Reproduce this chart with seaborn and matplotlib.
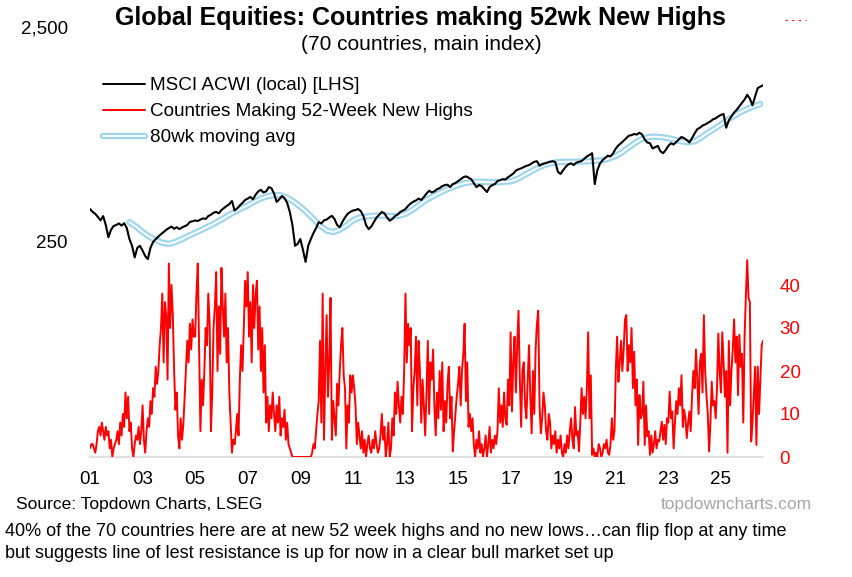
import numpy as np
import pandas as pd
import matplotlib
matplotlib.use("Agg")
import matplotlib.pyplot as plt
import seaborn as sns
from matplotlib import patheffects as pe
from matplotlib.lines import Line2D
from matplotlib.ticker import NullLocator

# ---------------- data ----------------
# MSCI ACWI (local), 10 readings per year starting 2001.0
acwi_start, acwi_step = 2001.0, 0.1
acwi_level = [
    356, 345, 338, 327, 315, 330, 300, 263, 285, 297,   # 2001
    300, 305, 298, 306, 290, 258, 240, 212, 235, 240,   # 2002
    228, 215, 208, 235, 250, 258, 265, 272, 278, 285,   # 2003
    290, 295, 288, 293, 287, 292, 296, 300, 310, 312,   # 2004
    315, 313, 318, 322, 320, 330, 335, 342, 345, 340,   # 2005
    352, 360, 368, 375, 388, 350, 358, 370, 380, 392,   # 2006
    398, 405, 395, 415, 430, 437, 425, 430, 450, 445,   # 2007
    420, 384, 395, 409, 400, 380, 345, 300, 240, 245,   # 2008
    258, 230, 202, 240, 258, 275, 290, 309, 305, 315,   # 2009
    318, 325, 331, 320, 300, 293, 310, 325, 338, 345,   # 2010
    350, 352, 356, 348, 330, 300, 287, 295, 310, 325,   # 2011
    335, 345, 340, 325, 314, 320, 330, 335, 345, 350,   # 2012
    356, 368, 378, 385, 390, 398, 392, 405, 420, 433,   # 2013
    425, 430, 440, 445, 455, 460, 462, 450, 465, 470,   # 2014
    480, 490, 500, 505, 498, 490, 470, 450, 460, 455,   # 2015
    440, 427, 450, 460, 465, 480, 485, 490, 488, 500,   # 2016
    510, 520, 537, 545, 550, 558, 565, 570, 580, 590,   # 2017
    594, 566, 575, 580, 585, 590, 594, 588, 530, 518,   # 2018
    540, 560, 575, 580, 570, 585, 590, 595, 610, 625,   # 2019
    635, 647, 465, 540, 580, 601, 615, 630, 625, 647,   # 2020
    680, 704, 720, 740, 760, 781, 785, 795, 790, 806,   # 2021
    790, 750, 726, 720, 681, 690, 700, 660, 647, 670,   # 2022
    700, 720, 710, 730, 750, 770, 760, 745, 726, 760,   # 2023
    800, 837, 850, 870, 880, 895, 910, 930, 940, 960,   # 2024
    975, 985, 850, 920, 960, 1000, 1030, 1070, 1110, 1150,  # 2025
    1210, 1160, 1080, 1190, 1300, 1320, 1340,           # 2026
]

# 80wk moving average, quarterly readings starting 2002.5
ma_start, ma_step = 2002.5, 0.25
ma_80wk = [
    309, 295,                                   # 2002 H2
    278, 265, 255, 248,                         # 2003
    245, 250, 258, 267,                         # 2004
    276, 285, 295, 306,                         # 2005
    318, 332, 345, 358,                         # 2006
    370, 385, 398, 408,                         # 2007
    413, 413, 402, 385,                         # 2008
    365, 343, 320, 298,                         # 2009
    283, 278, 285, 298,                         # 2010
    315, 325, 328, 331,                         # 2011
    332, 331, 330, 331,                         # 2012
    338, 352, 370, 390,                         # 2013
    405, 420, 435, 448,                         # 2014
    460, 470, 475, 477,                         # 2015
    476, 474, 474, 476,                         # 2016
    479, 490, 510, 530,                         # 2017
    550, 568, 580, 587,                         # 2018
    590, 590, 590, 592,                         # 2019
    594, 597, 600, 612,                         # 2020
    628, 655, 690, 725,                         # 2021
    755, 770, 772, 768,                         # 2022
    760, 748, 735, 727,                         # 2023
    735, 765, 805, 840,                         # 2024
    880, 925, 965, 1005,                        # 2025
    1040, 1070, 1095,                           # 2026
]

# Countries making 52-week new highs, 20 readings per year starting 2001.0
nh_start, nh_step = 2001.0, 0.05
new_highs = [
    2, 3, 3, 2, 1, 3, 6, 7, 5, 8, 6, 4, 7, 5, 6, 2, 4, 0, 2, 3,                      # 2001
    4, 6, 3, 8, 5, 10, 7, 15, 9, 14, 6, 8, 2, 0, 3, 5, 4, 7, 3, 6,                   # 2002
    12, 4, 1, 6, 9, 7, 13, 10, 16, 14, 21, 17, 20, 26, 30, 38, 22, 36, 33, 18,       # 2003
    45, 30, 40, 33, 20, 11, 15, 5, 2, 9, 4, 7.5, 14, 20, 27, 22, 31, 25, 32, 28,     # 2004
    28, 38, 45, 25, 6, 18, 12, 20, 30, 26, 38, 31, 6, 15, 30, 35, 43, 20, 35, 24,    # 2005
    44, 35, 28, 38, 22, 30, 15, 8, 1, 4, 3, 6, 10, 5, 18, 26, 20, 30, 41, 35,        # 2006
    43, 28, 36, 22, 40, 30, 38, 41, 25, 35, 20, 30, 15, 26, 8, 14, 6, 12, 9, 15,     # 2007
    10, 6, 12, 8, 14, 5, 9, 7, 11, 4, 8, 3, 2, 1, 0, 0, 0, 0, 0, 0,                  # 2008
    0, 0, 0, 0, 0, 0, 0, 0, 0, 1, 3, 2, 6, 10, 13, 27, 8, 38, 4, 20,                 # 2009
    33, 14, 22, 37, 4, 13, 9, 5, 17, 12, 20, 26, 30, 19, 16, 2, 12, 8, 19, 15,       # 2010
    19, 16, 12, 3, 8, 5, 2, 6, 1, 4, 0, 3, 5, 2, 1, 4, 2, 6, 3, 1,                   # 2011
    2, 5, 10, 4, 7, 0, 3, 8, 0, 2, 9, 5, 15, 10, 17.5, 12, 8, 14, 10, 20,            # 2012
    38, 22, 31, 26, 30, 6, 16, 20, 28, 12, 27, 20, 8, 18, 12, 5, 15, 27, 10, 22,     # 2013
    18, 25, 12, 5, 15, 9, 20, 11, 22, 6, 13, 8, 17, 21, 9, 14, 1.3, 6, 10, 14,       # 2014
    17, 21, 12, 20, 24, 31, 13, 22, 7, 10, 6, 9, 3, 0, 4, 2, 6, 1, 3, 0,             # 2015
    2, 5, 0, 3, 7, 1, 4, 2, 5, 3, 6, 16, 8, 12, 7, 15, 9, 7.5, 18, 12,               # 2016
    29, 10.6, 22, 28, 15, 26, 34, 18, 7, 20, 22, 12, 9, 18, 26, 14, 5.5, 20, 10, 25, # 2017
    31, 34, 12, 5.5, 9, 15, 12, 6, 4, 10, 8, 2, 5, 3, 6, 1, 4, 2, 5, 1,              # 2018
    0, 3, 1, 5, 2, 6, 9, 4, 2, 11.6, 5, 6, 1.3, 8, 16, 10, 14, 9, 16, 29,            # 2019
    9, 19, 0.5, 2, 0, 1, 0, 3, 2, 0, 1, 3, 2, 4, 1, 0.5, 3, 9, 4, 6,                 # 2020
    20, 28, 17.5, 22, 27, 20, 25, 32, 33, 20, 26, 22, 30, 16, 24.5, 12, 18, 2.8, 14.4, 9,  # 2021
    10, 17.5, 2.8, 12, 4.8, 6, 0.5, 5, 1, 3, 6, 2, 4, 3.6, 6, 8.2, 4, 7.5, 3, 9,     # 2022
    8, 15.2, 9, 10.6, 2, 8, 13, 10, 16, 12, 19, 7, 11, 9, 4.4, 8, 10.6, 6, 14, 20,   # 2023
    16, 25, 18, 10, 22, 24, 15, 33, 20, 14.4, 10, 1.3, 8, 17.5, 12, 13, 9, 16, 28.7, 20,  # 2024
    15, 29, 22, 14, 20, 1, 27, 12, 20, 25, 32, 22, 28, 14.4, 28.4, 21, 24, 8, 28, 37.7,   # 2025
    45.8, 37, 36, 3.6, 8, 14.4, 21, 2.8, 21, 10, 18, 26, 27,                         # 2026
]

year_ticks = list(range(2001, 2026, 2))
year_labels = ["01", "03", "05", "07", "09", "11", "13", "15", "17", "19", "21", "23", "25"]
lhs_ticks = [250, 2500]
lhs_labels = ["250", "2,500"]
rhs_ticks = [0, 10, 20, 30, 40]

title = "Global Equities: Countries making 52wk New Highs"
subtitle = "(70 countries, main index)"
series_names = ["MSCI ACWI (local) [LHS]", "Countries Making 52-Week New Highs", "80wk moving avg"]
source = "Source: Topdown Charts, LSEG"
brand = "topdowncharts.com"
caption = ["40% of the 70 countries here are at new 52 week highs and no new lows\u2026can flip flop at any time",
           "but suggests line of lest resistance is up for now in a clear bull market set up"]

# ---------------- frames ----------------
acwi_df = pd.DataFrame({"t": acwi_start + acwi_step * np.arange(len(acwi_level)), "v": acwi_level})
ma_df = pd.DataFrame({"t": ma_start + ma_step * np.arange(len(ma_80wk)), "v": ma_80wk})
nh_df = pd.DataFrame({"t": nh_start + nh_step * np.arange(len(new_highs)), "v": new_highs})

# ---------------- style ----------------
sns.set_theme(style="white")
plt.rcParams["font.family"] = ["Liberation Sans", "DejaVu Sans"]
plt.rcParams["text.color"] = "black"

RED = "#ff0000"
BLUE = "#9fd6ee"
GRID = "#d9d9d9"
ma_effects = [pe.Stroke(linewidth=4.6, foreground=BLUE), pe.Normal()]

fig = plt.figure(figsize=(8.52, 5.77), dpi=100)
ax = fig.add_axes([90 / 852, 1 - 457 / 577, 673 / 852, 430 / 577])
ax2 = ax.twinx()

sns.lineplot(data=ma_df, x="t", y="v", ax=ax, color="white", lw=1.4,
             path_effects=ma_effects, zorder=2)
sns.lineplot(data=acwi_df, x="t", y="v", ax=ax, color="black", lw=1.5, zorder=3)
sns.lineplot(data=nh_df, x="t", y="v", ax=ax2, color=RED, lw=1.4)

# left axis (log)
ax.set_yscale("log")
ax.set_ylim(25, 2500)
ax.set_yticks(lhs_ticks)
ax.set_yticklabels(lhs_labels)
ax.yaxis.set_minor_locator(NullLocator())
ax.set_xlim(2001.0, 2026.6)
ax.set_xticks(year_ticks)
ax.set_xticklabels(year_labels)
ax.set_xlabel("")
ax.set_ylabel("")
ax.tick_params(axis="x", length=4, width=1, color=GRID, pad=6, labelsize=13.5, labelcolor="black")
ax.tick_params(axis="y", length=0, pad=16, labelsize=13.5, labelcolor="black")

# right axis
ax2.set_ylim(0, 100)
ax2.set_yticks(rhs_ticks)
ax2.set_ylabel("")
ax2.tick_params(axis="y", length=0, pad=12, labelsize=13.5, labelcolor=RED)

for a in (ax, ax2):
    for s in a.spines.values():
        s.set_visible(False)
    a.grid(False)
    a.patch.set_alpha(0)
ax.spines["bottom"].set_visible(True)
ax.spines["bottom"].set_color(GRID)
ax.spines["bottom"].set_linewidth(1.2)

# legend
handles = [Line2D([], [], color="black", lw=1.4),
           Line2D([], [], color=RED, lw=1.4),
           Line2D([], [], color="white", lw=1.4, path_effects=ma_effects)]
fig.legend(handles, series_names, loc="upper left", bbox_to_anchor=(103 / 852, 1 - 77 / 577),
           frameon=False, fontsize=13.6, handlelength=2.2, handletextpad=0.3,
           labelspacing=0.47, borderpad=0, borderaxespad=0, labelcolor="black")

# texts
fig.text(0.494, 1 - 18 / 577, title, ha="center", va="center", fontsize=18, weight="bold")
fig.text(0.494, 1 - 45 / 577, subtitle, ha="center", va="center", fontsize=15)
fig.text(16 / 852, 1 - 504 / 577, source, ha="left", va="center", fontsize=12.5)
fig.text(812 / 852, 1 - 504 / 577, brand, ha="right", va="center", fontsize=12.5, color="#a6a6a6")
fig.text(5 / 852, 1 - 532 / 577, caption[0], ha="left", va="center", fontsize=12.95)
fig.text(5 / 852, 1 - 553 / 577, caption[1], ha="left", va="center", fontsize=12.95)

# small red dashed mark at top right
fig.add_artist(Line2D([785 / 852, 806 / 852], [1 - 20 / 577, 1 - 20 / 577],
                      transform=fig.transFigure, color=RED, lw=0.8, ls=(0, (2, 4))))

fig.savefig("out.png", dpi=100)
